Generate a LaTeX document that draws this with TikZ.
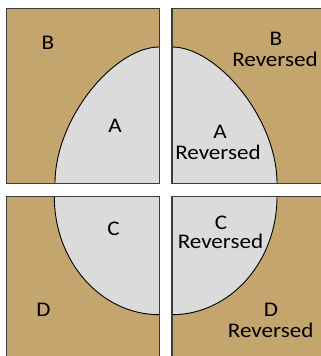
\documentclass[tikz,border=0pt]{standalone}
\usepackage{fontspec}
\setmainfont{Carlito}
\definecolor{sand}{RGB}{196,165,110}
\definecolor{lightfill}{RGB}{219,219,219}
\definecolor{edge}{RGB}{60,60,60}
\newcommand{\wide}[1]{\scalebox{1.11}[1]{#1}}
\tikzset{
  tile/.style={fill=sand},
  frame/.style={draw=edge, line width=1.2pt},
  lobe/.style={fill=lightfill},
  rim/.style={draw=black, line width=0.9pt},
  lbl/.style={anchor=base, inner sep=0pt, font=\fontsize{20.8}{24}\selectfont}
}
\begin{document}
\begin{tikzpicture}[x=1pt, y=-1pt]
\useasboundingbox (0,0) rectangle (321,356);
\clip (0,0) rectangle (321,356);
% four tiles
\fill[tile] (6.7,8.3) rectangle (159.3,183.3);
\fill[tile] (172,8.3) rectangle (330,183.3);
\fill[tile] (6.7,196.7) rectangle (159.3,365);
\fill[tile] (172,196.7) rectangle (330,365);
% curve end points
\coordinate (tlTop) at (159.3,47);
\coordinate (tlFoot) at (55,183.3);
\coordinate (tlCorner) at (159.3,183.3);
\coordinate (trTop) at (172,47);
\coordinate (trFoot) at (277,183.3);
\coordinate (trCorner) at (172,183.3);
\coordinate (blTop) at (54.3,196.7);
\coordinate (blFoot) at (159.3,314.7);
\coordinate (blCorner) at (159.3,196.7);
\coordinate (brTop) at (277,196.7);
\coordinate (brFoot) at (172,314.7);
\coordinate (brCorner) at (172,196.7);
% light lobes
\fill[lobe] (tlTop) .. controls (114.3,47) and (55,118.3) .. (tlFoot) -- (tlCorner) -- cycle;
\fill[lobe] (trTop) .. controls (217,47) and (277,118.3) .. (trFoot) -- (trCorner) -- cycle;
\fill[lobe] (blTop) .. controls (54.3,261.9) and (101.3,314.7) .. (blFoot) -- (blCorner) -- cycle;
\fill[lobe] (brTop) .. controls (277,261.9) and (230,314.7) .. (brFoot) -- (brCorner) -- cycle;
% lobe outlines
\draw[rim] (tlTop) .. controls (114.3,47) and (55,118.3) .. (tlFoot);
\draw[rim] (trTop) .. controls (217,47) and (277,118.3) .. (trFoot);
\draw[rim] (blTop) .. controls (54.3,261.9) and (101.3,314.7) .. (blFoot);
\draw[rim] (brTop) .. controls (277,261.9) and (230,314.7) .. (brFoot);
% tile frames
\draw[frame] (6.7,8.3) rectangle (159.3,183.3);
\draw[frame] (172,8.3) rectangle (330,183.3);
\draw[frame] (6.7,196.7) rectangle (159.3,365);
\draw[frame] (172,196.7) rectangle (330,365);
% labels
\node[lbl] (B) at (48,49.5) {\wide{B}};
\node[lbl] (A) at (115,132.5) {\wide{A}};
\node[lbl] (Br1) at (276,45) {\wide{B}};
\node[lbl] (Br2) at (275,66.7) {\wide{Reversed}};
\node[lbl] (Ar1) at (220,138.3) {\wide{A}};
\node[lbl] (Ar2) at (218,159.5) {\wide{Reversed}};
\node[lbl] (C) at (113.5,235) {\wide{C}};
\node[lbl] (Cr1) at (221,229.3) {\wide{C}};
\node[lbl] (Cr2) at (220.5,248.3) {\wide{Reversed}};
\node[lbl] (D) at (43.5,316.7) {\wide{D}};
\node[lbl] (Dr1) at (271,316) {\wide{D}};
\node[lbl] (Dr2) at (270.7,337.3) {\wide{Reversed}};
\end{tikzpicture}
\end{document}
